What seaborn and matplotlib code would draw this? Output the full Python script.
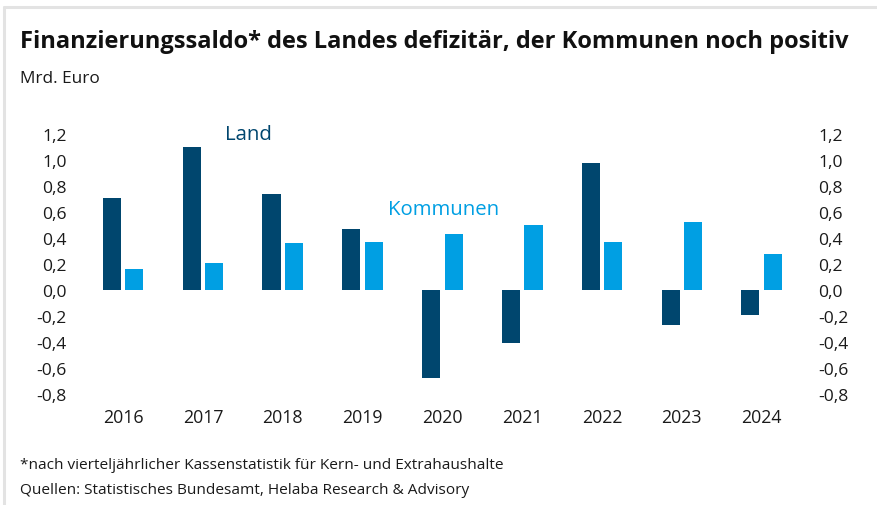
"""
Finanzierungssaldo Land vs. Kommunen, 2016-2024 (Mrd. Euro).
Grouped bar chart with tick labels on both sides.
"""
import pandas as pd
import matplotlib
matplotlib.use('Agg')
import matplotlib.pyplot as plt
import seaborn as sns

# Data
years = ['2016', '2017', '2018', '2019', '2020', '2021', '2022', '2023', '2024']
land = [0.71, 1.10, 0.74, 0.47, -0.68, -0.41, 0.98, -0.27, -0.19]
kommunen = [0.16, 0.21, 0.36, 0.37, 0.43, 0.50, 0.37, 0.52, 0.28]
series_names = ['Land', 'Kommunen']
y_ticks = [-0.8, -0.6, -0.4, -0.2, 0.0, 0.2, 0.4, 0.6, 0.8, 1.0, 1.2]

title = 'Finanzierungssaldo* des Landes defizitär, der Kommunen noch positiv'
unit = 'Mrd. Euro'
footnote = '*nach vierteljährlicher Kassenstatistik für Kern- und Extrahaushalte'
source = 'Quellen: Statistisches Bundesamt, Helaba Research & Advisory'

col_land = '#00466e'
col_komm = '#009fe3'

sns.set_style("white")
plt.rcParams['font.family'] = ['Open Sans', 'DejaVu Sans']

df = pd.DataFrame({
    'Jahr': years * 2,
    'Saldo': land + kommunen,
    'Serie': [series_names[0]] * len(years) + [series_names[1]] * len(years),
})

fig = plt.figure(figsize=(8.77, 5.06), dpi=100)
ax = fig.add_axes([0.0912, 0.2065, 0.8267, 0.5395])

sns.barplot(data=df, x='Jahr', y='Saldo', hue='Serie', order=years,
            hue_order=series_names, palette=[col_land, col_komm],
            saturation=1, width=0.565, gap=0.2, linewidth=0,
            legend=False, ax=ax)

ax.set_xlim(-0.541, 8.543)
ax.set_ylim(-0.85, 1.25)
ax.set_yticks(y_ticks)
ax.set_yticklabels([f'{v:.1f}'.replace('.', ',') for v in y_ticks])
ax.set_xlabel('')
ax.set_ylabel('')
ax.tick_params(axis='y', length=0, pad=9.4, labelsize=12.6, colors='#1a1a1a')
ax.tick_params(axis='x', length=0, pad=5.3, labelsize=12.8, colors='#1a1a1a')
sns.despine(ax=ax, left=True, bottom=True)

# second y axis on the right
ax2 = ax.twinx()
ax2.set_ylim(ax.get_ylim())
ax2.set_yticks(y_ticks)
ax2.set_yticklabels([f'{v:.1f}'.replace('.', ',') for v in y_ticks])
ax2.tick_params(axis='y', length=0, pad=9.4, labelsize=12.6, colors='#1a1a1a')
for s in ax2.spines.values():
    s.set_visible(False)
ax2.grid(False)

# series labels inside the plot
ax.text(1.276, 1.16, 'Land', color=col_land, fontsize=14.7,
        ha='left', va='baseline', clip_on=False)
ax.text(3.318, 0.585, 'Kommunen', color=col_komm, fontsize=14.7,
        ha='left', va='baseline', clip_on=False)

# titles and footer
fig.text(0.0228, 0.9045, title, fontsize=17, fontweight='bold',
         color='#111111', ha='left', va='baseline')
fig.text(0.0228, 0.8354, unit, fontsize=12.4, color='#1a1a1a',
         ha='left', va='baseline')
fig.text(0.0228, 1 - 469 / 506, footnote, fontsize=11.1, color='#1a1a1a',
         ha='left', va='baseline')
fig.text(0.0228, 1 - 494 / 506, source, fontsize=11.1, color='#1a1a1a',
         ha='left', va='baseline')

# light frame at top and left edge
fig.add_artist(plt.Line2D([4 / 877, 1], [1 - 8 / 506, 1 - 8 / 506],
                          transform=fig.transFigure, color='#e3e3e3', lw=2.2))
fig.add_artist(plt.Line2D([4 / 877, 4 / 877], [0, 1 - 8 / 506],
                          transform=fig.transFigure, color='#e3e3e3', lw=2.2))

fig.savefig('out.png', dpi=100)
